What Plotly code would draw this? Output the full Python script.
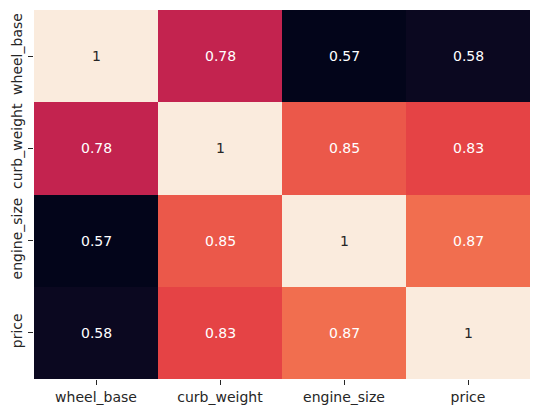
import plotly.graph_objects as go

# correlation matrix
labels = ["wheel_base", "curb_weight", "engine_size", "price"]
corr = [
    [1.00, 0.78, 0.57, 0.58],
    [0.78, 1.00, 0.85, 0.83],
    [0.57, 0.85, 1.00, 0.87],
    [0.58, 0.83, 0.87, 1.00],
]

# seaborn "rocket" approximation
rocket = [
    [0.0, "#03051a"],
    [1 / 7, "#35193e"],
    [2 / 7, "#701f57"],
    [3 / 7, "#ad1759"],
    [4 / 7, "#e13342"],
    [5 / 7, "#f37651"],
    [6 / 7, "#f6b48f"],
    [1.0, "#faebdd"],
]

vmin = min(min(r) for r in corr)
vmax = max(max(r) for r in corr)

fig = go.Figure(
    go.Heatmap(
        z=corr,
        x=labels,
        y=labels,
        colorscale=rocket,
        zmin=vmin,
        zmax=vmax,
        showscale=False,
        xgap=0,
        ygap=0,
    )
)

for i, row in enumerate(corr):
    for j, v in enumerate(row):
        frac = (v - vmin) / (vmax - vmin)
        fig.add_annotation(
            x=labels[j],
            y=labels[i],
            text=f"{v:g}",
            showarrow=False,
            font=dict(size=14, color="#262626" if frac > 0.85 else "white"),
        )

# page body has an 8px margin, so size the figure to fit inside it
fig.update_layout(
    width=523,
    height=397,
    margin=dict(l=26, r=1, t=2, b=26, autoexpand=False),
    paper_bgcolor="white",
    plot_bgcolor="white",
    font=dict(family="DejaVu Sans", size=14, color="#262626"),
)
fig.update_xaxes(
    ticks="outside", ticklen=5, tickcolor="#262626", showgrid=False,
    zeroline=False, showline=False, automargin=False,
)
fig.update_yaxes(
    autorange="reversed", ticks="outside", ticklen=5, tickcolor="#262626",
    tickangle=-90, showgrid=False, zeroline=False, showline=False,
    automargin=False,
)

fig.write_html("out.html")
